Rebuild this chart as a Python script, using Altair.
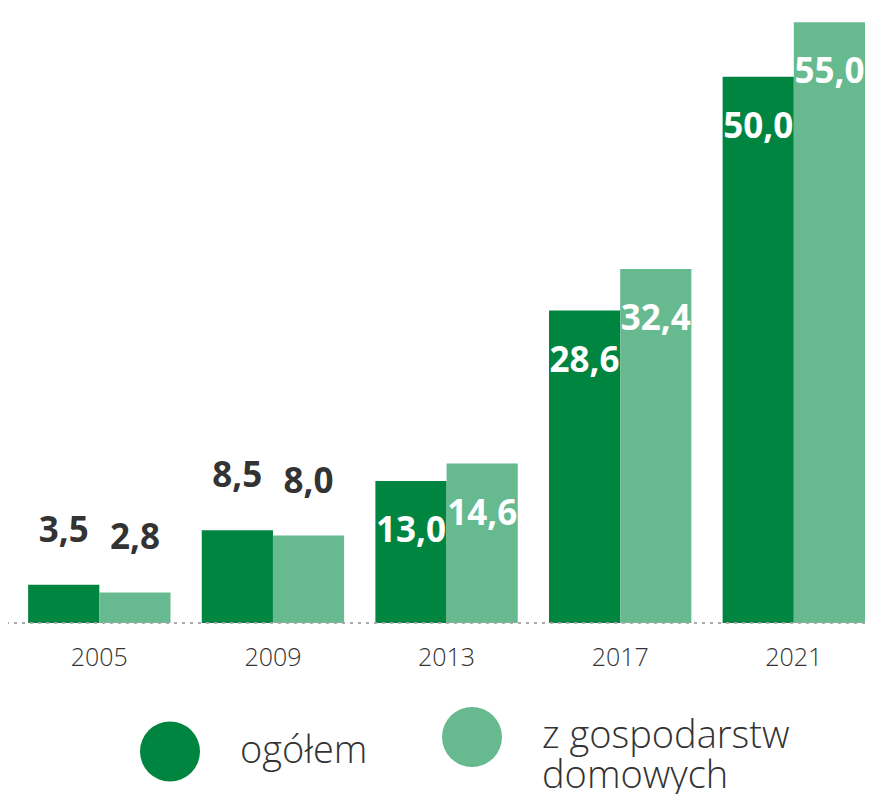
import altair as alt
import pandas as pd

years = ["2005", "2009", "2013", "2017", "2021"]
series = ["ogółem", "z gospodarstw domowych"]
ogolem = [3.5, 8.5, 13.0, 28.6, 50.0]
gosp = [2.8, 8.0, 14.6, 32.4, 55.0]
colors = ["#008540", "#67b98f"]

rows = []
for y, a, b in zip(years, ogolem, gosp):
    rows.append({"year": y, "series": series[0], "value": a})
    rows.append({"year": y, "series": series[1], "value": b})
df = pd.DataFrame(rows)
df["label"] = df["value"].map(lambda v: f"{v:.1f}".replace(".", ","))

FONT = "Open Sans"

x = alt.X("year:N", sort=years, title=None,
          scale=alt.Scale(paddingInner=0.18, paddingOuter=0.058, align=1.0),
          axis=alt.Axis(domain=False, ticks=False, labelAngle=0, labelFontSize=25,
                        labelFont=FONT, labelFontWeight=300, labelColor="#333333",
                        labelPadding=22))
y = alt.Y("value:Q", axis=None, scale=alt.Scale(domain=[0, 56.3], nice=False, zero=True))
xo = alt.XOffset("series:N", sort=series)

base = alt.Chart(df)

bars = base.mark_bar().encode(
    x=x, y=y, xOffset=xo,
    color=alt.Color("series:N", sort=series,
                    scale=alt.Scale(domain=series, range=colors),
                    legend=alt.Legend(title=None, orient="none", legendX=132, legendY=699,
                                      direction="horizontal", symbolType="circle",
                                      symbolSize=3600, symbolStrokeWidth=0,
                                      labelFontSize=38, labelFont=FONT, labelFontWeight=300,
                                      labelColor="#333333",
                                      labelOffset=40, columnPadding=74, labelLimit=400,
                                      labelExpr="datum.label == 'z gospodarstw domowych' ? ['z gospodarstw', 'domowych'] : datum.label",
                                      labelBaseline="middle")),
)

inside = base.transform_filter("datum.value >= 10").mark_text(
    baseline="middle", dy=50, font=FONT, fontSize=35, fontWeight="bold", color="white"
).encode(x=x, y=y, xOffset=xo, text="label:N")

outside = base.transform_filter("datum.value < 10").mark_text(
    baseline="middle", dy=-54, font=FONT, fontSize=35, fontWeight="bold", color="#333333"
).encode(x=x, y=y, xOffset=xo, text="label:N")

rule = alt.Chart(pd.DataFrame({"v": [0]})).mark_rule(
    color="#aaaaaa", strokeDash=[3, 5], strokeWidth=2
).encode(y=alt.Y("v:Q"))

chart = alt.layer(bars, inside, outside, rule).properties(
    width=857, height=615,
    padding={"left": 0, "top": 0, "right": 0, "bottom": 171},
    autosize=alt.AutoSizeParams(type="none"),
).configure(
    style={"guide-label": {"lineHeight": 40}},
    view=alt.ViewConfig(stroke=None),
)

chart.save("out.html", embed_options={"renderer": "svg", "actions": False})
